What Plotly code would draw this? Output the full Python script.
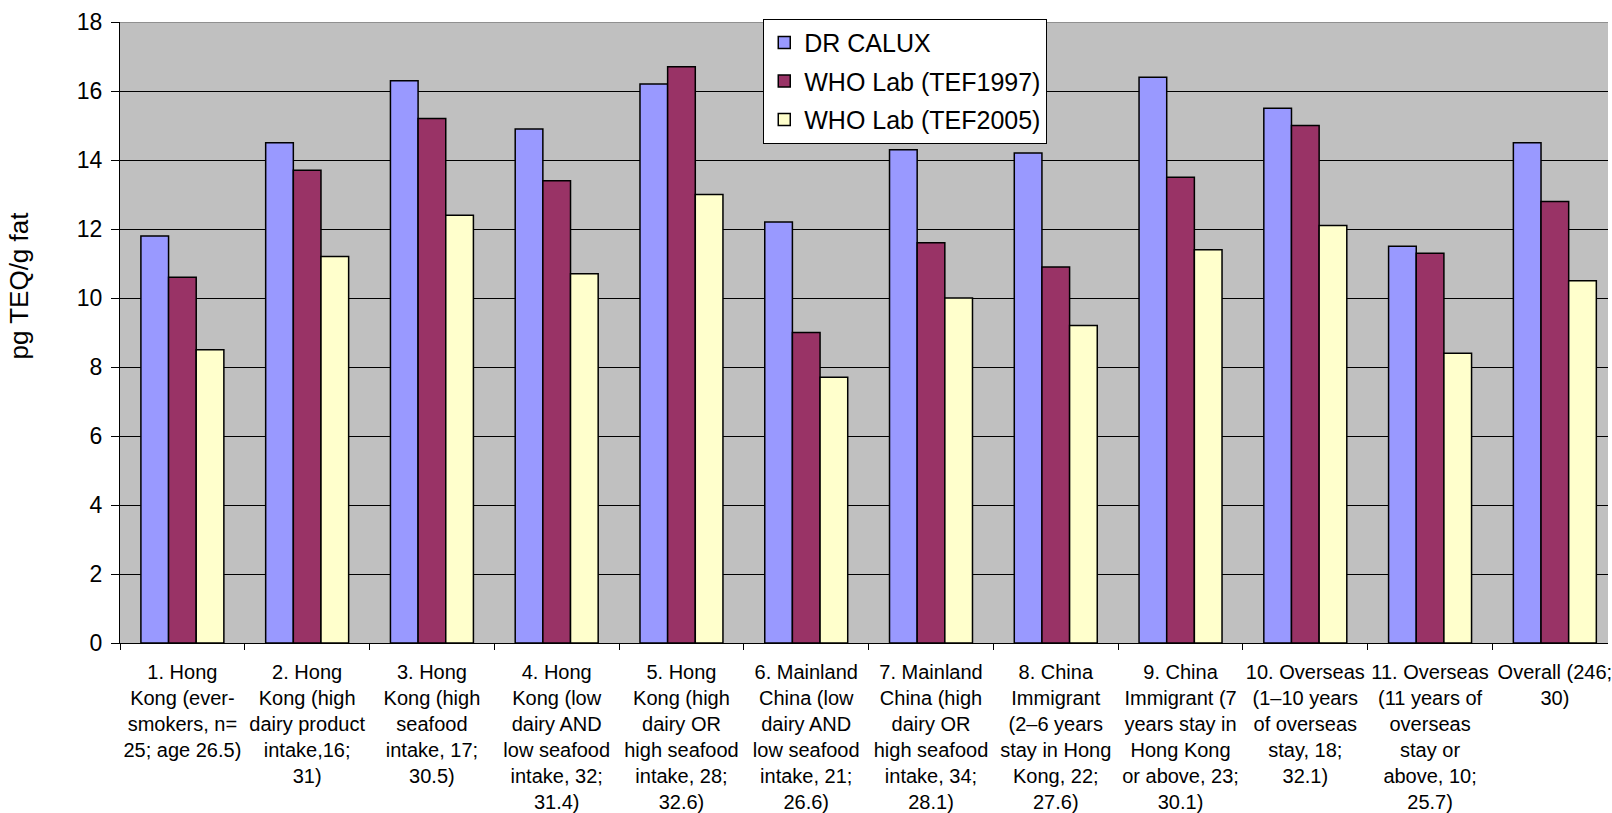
import plotly.graph_objects as go

categories = [
    "1. Hong<br>Kong (ever-<br>smokers, n=<br>25; age 26.5)",
    "2. Hong<br>Kong (high<br>dairy product<br>intake,16;<br>31)",
    "3. Hong<br>Kong (high<br>seafood<br>intake, 17;<br>30.5)",
    "4. Hong<br>Kong (low<br>dairy AND<br>low seafood<br>intake, 32;<br>31.4)",
    "5. Hong<br>Kong (high<br>dairy OR<br>high seafood<br>intake, 28;<br>32.6)",
    "6. Mainland<br>China (low<br>dairy AND<br>low seafood<br>intake, 21;<br>26.6)",
    "7. Mainland<br>China (high<br>dairy OR<br>high seafood<br>intake, 34;<br>28.1)",
    "8. China<br>Immigrant<br>(2–6 years<br>stay in Hong<br>Kong, 22;<br>27.6)",
    "9. China<br>Immigrant (7<br>years stay in<br>Hong Kong<br>or above, 23;<br>30.1)",
    "10. Overseas<br>(1–10 years<br>of overseas<br>stay, 18;<br>32.1)",
    "11. Overseas<br>(11 years of<br>overseas<br>stay or<br>above, 10;<br>25.7)",
    "Overall (246;<br>30)",
]

dr_calux = [11.8, 14.5, 16.3, 14.9, 16.2, 12.2, 14.3, 14.2, 16.4, 15.5, 11.5, 14.5]
who_tef1997 = [10.6, 13.7, 15.2, 13.4, 16.7, 9.0, 11.6, 10.9, 13.5, 15.0, 11.3, 12.8]
who_tef2005 = [8.5, 11.2, 12.4, 10.7, 13.0, 7.7, 10.0, 9.2, 11.4, 12.1, 8.4, 10.5]

y_ticks = [0, 2, 4, 6, 8, 10, 12, 14, 16, 18]

series = [
    ("DR CALUX", dr_calux, "#9999FF"),
    ("WHO Lab (TEF1997)", who_tef1997, "#993366"),
    ("WHO Lab (TEF2005)", who_tef2005, "#FFFFCC"),
]

FONT = "Liberation Sans, Arial, sans-serif"

fig = go.Figure()
for i, (name, vals, color) in enumerate(series):
    fig.add_trace(go.Bar(
        name=name,
        x=categories,
        y=vals,
        marker=dict(color=color, line=dict(color="black", width=1.5)),
        legendgroup=f"g{i}",
    ))

fig.update_layout(
    width=1612,
    height=813,
    margin=dict(l=120, r=0, t=22, b=167),
    paper_bgcolor="white",
    plot_bgcolor="#C0C0C0",
    barmode="group",
    bargap=0.335,
    bargroupgap=0,
    font=dict(family=FONT, color="black"),
    showlegend=True,
    legend=dict(
        x=0.4323, y=1.0053, xanchor="left", yanchor="top",
        bgcolor="white", bordercolor="black", borderwidth=1,
        font=dict(size=25, family=FONT, color="black"),
        traceorder="grouped", tracegroupgap=3,
    ),
    xaxis=dict(
        range=[-0.5, 11.426],
        showline=True, linecolor="black", linewidth=1,
        ticks="outside", tickson="boundaries", ticklen=6, tickcolor="black",
        tickfont=dict(size=20, family=FONT, color="black"),
        tickangle=0,
        ticklabelstandoff=11,
        showgrid=False,
    ),
    yaxis=dict(
        range=[0, 18],
        tickvals=y_ticks,
        showline=True, linecolor="black", linewidth=1,
        ticks="outside", ticklen=8, tickcolor="black",
        tickfont=dict(size=23, family=FONT, color="black"),
        ticklabelstandoff=4,
        showgrid=True, gridcolor="black", gridwidth=1,
        zeroline=False,
    ),
    annotations=[dict(
        text="pg TEQ/g fat",
        xref="paper", yref="paper",
        x=-0.068, y=0.5754,
        xanchor="center", yanchor="middle",
        textangle=-90, showarrow=False,
        font=dict(size=26, family=FONT, color="black"),
    )],
    shapes=[dict(
        type="line", xref="paper", yref="y",
        x0=0, x1=1, y0=18, y1=18,
        line=dict(color="#808080", width=1.5),
    )],
)

fig.write_html("out.html")
